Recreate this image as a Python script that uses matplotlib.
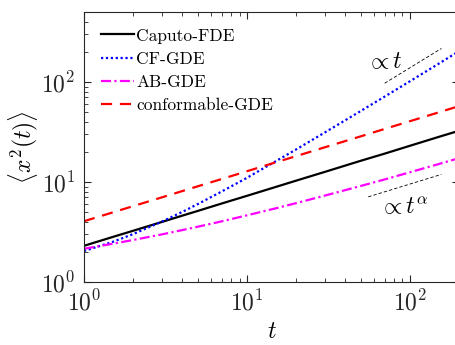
import numpy as np
import matplotlib
matplotlib.use("Agg")
import matplotlib.pyplot as plt
from matplotlib.ticker import LogLocator, NullFormatter

plt.rcParams['font.family'] = ['cmr10', 'DejaVu Serif']
plt.rcParams['mathtext.fontset'] = 'cm'
plt.rcParams['axes.formatter.use_mathtext'] = True

# ---- data ----
t = [1, 1.5, 2, 3, 4, 5, 7, 10, 15, 20, 30, 50, 70, 100, 150, 200]
caputo_fde = [2.30, 2.82, 3.25, 3.98, 4.60, 5.14, 6.09, 7.27, 8.91, 10.3, 12.6, 16.3, 19.2, 23.0, 28.2, 32.5]
cf_gde = [2.04, 2.52, 3.01, 4.01, 5.01, 6.02, 8.03, 11.0, 16.1, 21.1, 31.2, 51.3, 71.4, 101.5, 152, 203]
ab_gde = [2.15, 2.41, 2.63, 2.99, 3.30, 3.57, 4.04, 4.64, 5.45, 6.14, 7.30, 9.13, 10.6, 12.5, 15.1, 17.3]
conformable_gde = [4.05, 4.96, 5.73, 7.01, 8.10, 9.06, 10.7, 12.8, 15.7, 18.1, 22.2, 28.6, 33.9, 40.5, 49.6, 57.3]

labels = ['Caputo-FDE', 'CF-GDE', 'AB-GDE', 'conformable-GDE']

# guide lines for scaling
guide_lin_t = [70, 156]
guide_lin_y = [97, 216]
guide_alpha_t = [55.5, 156]
guide_alpha_y = [7.1, 11.9]

fig = plt.figure(figsize=(4.56, 3.45), dpi=100)
ax = fig.add_axes([84/456, 1-282/345, 375/456, 270/345])

lw = 1.6
ax.plot(t, caputo_fde, color='black', lw=lw, ls='-', label=labels[0])
ax.plot(t, cf_gde, color='#0000ff', lw=lw, ls=(0, (1, 1.2)), label=labels[1])
ax.plot(t, ab_gde, color='#ff00ff', lw=lw, ls=(0, (4.5, 1.5, 1, 1.5)), label=labels[2])
ax.plot(t, conformable_gde, color='#ff0000', lw=lw, ls=(0, (5, 3.5)), label=labels[3])

ax.plot(guide_lin_t, guide_lin_y, color='black', lw=0.6, ls=(0, (4, 2.5)))
ax.plot(guide_alpha_t, guide_alpha_y, color='black', lw=0.6, ls=(0, (4, 2.5)))
ax.text(70, 158, r'$\propto t$', fontsize=17, ha='center', va='center')
ax.text(92, 5.5, r'$\propto t^{\alpha}$', fontsize=17, ha='center', va='center')

ax.set_xscale('log')
ax.set_yscale('log')
ax.set_xlim(1, 200)
ax.set_ylim(1, 500)

ax.xaxis.set_major_locator(LogLocator(base=10, numticks=10))
ax.yaxis.set_major_locator(LogLocator(base=10, numticks=10))
ax.xaxis.set_minor_locator(LogLocator(base=10, subs=np.arange(2, 10), numticks=20))
ax.yaxis.set_minor_locator(LogLocator(base=10, subs=np.arange(2, 10), numticks=20))
ax.xaxis.set_minor_formatter(NullFormatter())
ax.yaxis.set_minor_formatter(NullFormatter())

spine_c = '#262626'
for s in ax.spines.values():
    s.set_color(spine_c)
    s.set_linewidth(0.8)
ax.tick_params(which='both', direction='in', top=True, right=True, colors=spine_c, labelcolor='#262626')
ax.tick_params(which='major', length=5, width=0.8, labelsize=17, pad=6)
ax.tick_params(which='minor', length=3, width=0.6)

ax.set_xlabel(r'$t$', fontsize=17)
ax.xaxis.set_label_coords(0.5, -0.145)
ax.set_ylabel(r'$\langle x^2(t) \rangle$', fontsize=17)
ax.yaxis.set_label_coords(-0.118, 0.5)

leg = ax.legend(loc='upper left', bbox_to_anchor=(0.045, 0.94), frameon=False,
                fontsize=12.5, handlelength=1.9, handletextpad=0.15,
                labelspacing=0.46, borderpad=0, borderaxespad=0)

fig.savefig('out.png', dpi=100)
